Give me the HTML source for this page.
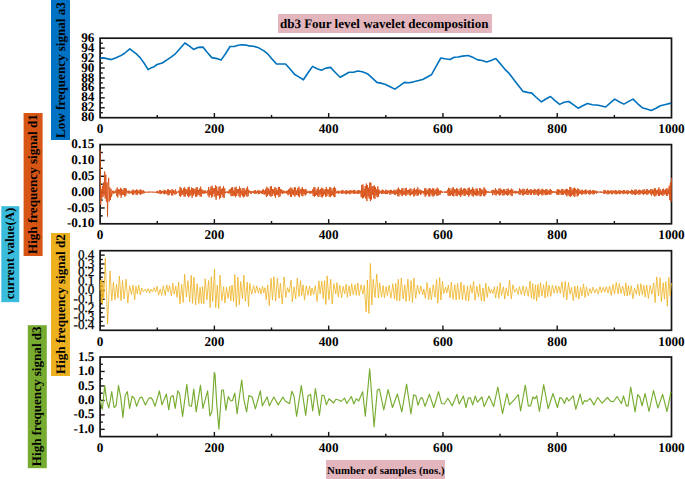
<!DOCTYPE html>
<html><head><meta charset="utf-8"><style>
html,body{margin:0;padding:0;background:#fff;}
body{width:685px;height:479px;overflow:hidden;position:relative;}
svg{position:absolute;left:0;top:0;}
svg text{text-rendering:geometricPrecision;font-family:"Liberation Serif",serif;font-weight:bold;font-size:13.2px;fill:#000;}
.box{text-rendering:geometricPrecision;position:absolute;font-family:"Liberation Serif",serif;font-weight:bold;color:#000;white-space:nowrap;}
.v{writing-mode:vertical-rl;transform:rotate(180deg);display:flex;align-items:center;justify-content:center;}
</style></head><body>
<svg width="685" height="479" viewBox="0 0 685 479">
<rect width="685" height="479" fill="#fff"/>
<rect x="100.1" y="38.2" width="571.4" height="79.5" fill="none" stroke="#161616" stroke-width="1.7"/>
<text x="94.4" y="41.80" text-anchor="end">96</text>
<line x1="100.1" y1="48.14" x2="104.69999999999999" y2="48.14" stroke="#161616" stroke-width="1.4"/>
<text x="94.4" y="51.74" text-anchor="end">94</text>
<line x1="100.1" y1="58.08" x2="104.69999999999999" y2="58.08" stroke="#161616" stroke-width="1.4"/>
<text x="94.4" y="61.68" text-anchor="end">92</text>
<line x1="100.1" y1="68.01" x2="104.69999999999999" y2="68.01" stroke="#161616" stroke-width="1.4"/>
<text x="94.4" y="71.61" text-anchor="end">90</text>
<line x1="100.1" y1="77.95" x2="104.69999999999999" y2="77.95" stroke="#161616" stroke-width="1.4"/>
<text x="94.4" y="81.55" text-anchor="end">88</text>
<line x1="100.1" y1="87.89" x2="104.69999999999999" y2="87.89" stroke="#161616" stroke-width="1.4"/>
<text x="94.4" y="91.49" text-anchor="end">86</text>
<line x1="100.1" y1="97.83" x2="104.69999999999999" y2="97.83" stroke="#161616" stroke-width="1.4"/>
<text x="94.4" y="101.42" text-anchor="end">84</text>
<line x1="100.1" y1="107.76" x2="104.69999999999999" y2="107.76" stroke="#161616" stroke-width="1.4"/>
<text x="94.4" y="111.36" text-anchor="end">82</text>
<text x="94.4" y="121.30" text-anchor="end">80</text>
<line x1="100.1" y1="43.17" x2="102.8" y2="43.17" stroke="#161616" stroke-width="1.4"/>
<line x1="100.1" y1="53.11" x2="102.8" y2="53.11" stroke="#161616" stroke-width="1.4"/>
<line x1="100.1" y1="63.04" x2="102.8" y2="63.04" stroke="#161616" stroke-width="1.4"/>
<line x1="100.1" y1="72.98" x2="102.8" y2="72.98" stroke="#161616" stroke-width="1.4"/>
<line x1="100.1" y1="82.92" x2="102.8" y2="82.92" stroke="#161616" stroke-width="1.4"/>
<line x1="100.1" y1="92.86" x2="102.8" y2="92.86" stroke="#161616" stroke-width="1.4"/>
<line x1="100.1" y1="102.79" x2="102.8" y2="102.79" stroke="#161616" stroke-width="1.4"/>
<line x1="100.1" y1="112.73" x2="102.8" y2="112.73" stroke="#161616" stroke-width="1.4"/>
<line x1="157.24" y1="117.7" x2="157.24" y2="114.9" stroke="#161616" stroke-width="1.4"/>
<line x1="214.38" y1="117.7" x2="214.38" y2="113.0" stroke="#161616" stroke-width="1.4"/>
<line x1="271.52" y1="117.7" x2="271.52" y2="114.9" stroke="#161616" stroke-width="1.4"/>
<line x1="328.66" y1="117.7" x2="328.66" y2="113.0" stroke="#161616" stroke-width="1.4"/>
<line x1="385.80" y1="117.7" x2="385.80" y2="114.9" stroke="#161616" stroke-width="1.4"/>
<line x1="442.94" y1="117.7" x2="442.94" y2="113.0" stroke="#161616" stroke-width="1.4"/>
<line x1="500.08" y1="117.7" x2="500.08" y2="114.9" stroke="#161616" stroke-width="1.4"/>
<line x1="557.22" y1="117.7" x2="557.22" y2="113.0" stroke="#161616" stroke-width="1.4"/>
<line x1="614.36" y1="117.7" x2="614.36" y2="114.9" stroke="#161616" stroke-width="1.4"/>
<text x="100.10" y="133.00" text-anchor="middle">0</text>
<text x="214.38" y="133.00" text-anchor="middle">200</text>
<text x="328.66" y="133.00" text-anchor="middle">400</text>
<text x="442.94" y="133.00" text-anchor="middle">600</text>
<text x="557.22" y="133.00" text-anchor="middle">800</text>
<text x="671.50" y="133.00" text-anchor="middle">1000</text>
<rect x="100.1" y="144.6" width="571.4" height="79.20000000000002" fill="none" stroke="#161616" stroke-width="1.7"/>
<text x="94.4" y="148.20" text-anchor="end">0.15</text>
<line x1="100.1" y1="160.44" x2="104.69999999999999" y2="160.44" stroke="#161616" stroke-width="1.4"/>
<text x="94.4" y="164.04" text-anchor="end">0.10</text>
<line x1="100.1" y1="176.28" x2="104.69999999999999" y2="176.28" stroke="#161616" stroke-width="1.4"/>
<text x="94.4" y="179.88" text-anchor="end">0.05</text>
<line x1="100.1" y1="192.12" x2="104.69999999999999" y2="192.12" stroke="#161616" stroke-width="1.4"/>
<text x="94.4" y="195.72" text-anchor="end">0.00</text>
<line x1="100.1" y1="207.96" x2="104.69999999999999" y2="207.96" stroke="#161616" stroke-width="1.4"/>
<text x="94.4" y="211.56" text-anchor="end">-0.05</text>
<text x="94.4" y="227.40" text-anchor="end">-0.10</text>
<line x1="100.1" y1="152.52" x2="102.8" y2="152.52" stroke="#161616" stroke-width="1.4"/>
<line x1="100.1" y1="168.36" x2="102.8" y2="168.36" stroke="#161616" stroke-width="1.4"/>
<line x1="100.1" y1="184.20" x2="102.8" y2="184.20" stroke="#161616" stroke-width="1.4"/>
<line x1="100.1" y1="200.04" x2="102.8" y2="200.04" stroke="#161616" stroke-width="1.4"/>
<line x1="100.1" y1="215.88" x2="102.8" y2="215.88" stroke="#161616" stroke-width="1.4"/>
<line x1="157.24" y1="223.8" x2="157.24" y2="221.0" stroke="#161616" stroke-width="1.4"/>
<line x1="214.38" y1="223.8" x2="214.38" y2="219.10000000000002" stroke="#161616" stroke-width="1.4"/>
<line x1="271.52" y1="223.8" x2="271.52" y2="221.0" stroke="#161616" stroke-width="1.4"/>
<line x1="328.66" y1="223.8" x2="328.66" y2="219.10000000000002" stroke="#161616" stroke-width="1.4"/>
<line x1="385.80" y1="223.8" x2="385.80" y2="221.0" stroke="#161616" stroke-width="1.4"/>
<line x1="442.94" y1="223.8" x2="442.94" y2="219.10000000000002" stroke="#161616" stroke-width="1.4"/>
<line x1="500.08" y1="223.8" x2="500.08" y2="221.0" stroke="#161616" stroke-width="1.4"/>
<line x1="557.22" y1="223.8" x2="557.22" y2="219.10000000000002" stroke="#161616" stroke-width="1.4"/>
<line x1="614.36" y1="223.8" x2="614.36" y2="221.0" stroke="#161616" stroke-width="1.4"/>
<text x="100.10" y="239.10" text-anchor="middle">0</text>
<text x="214.38" y="239.10" text-anchor="middle">200</text>
<text x="328.66" y="239.10" text-anchor="middle">400</text>
<text x="442.94" y="239.10" text-anchor="middle">600</text>
<text x="557.22" y="239.10" text-anchor="middle">800</text>
<text x="671.50" y="239.10" text-anchor="middle">1000</text>
<rect x="100.1" y="250.7" width="571.4" height="79.60000000000002" fill="none" stroke="#161616" stroke-width="1.7"/>
<line x1="100.1" y1="255.12" x2="104.69999999999999" y2="255.12" stroke="#161616" stroke-width="1.4"/>
<text x="94.4" y="258.72" text-anchor="end" style="font-weight:normal;font-size:13.2px;stroke:#000;stroke-width:0.25px">0.4</text>
<line x1="100.1" y1="263.97" x2="104.69999999999999" y2="263.97" stroke="#161616" stroke-width="1.4"/>
<text x="94.4" y="267.57" text-anchor="end" style="font-weight:normal;font-size:13.2px;stroke:#000;stroke-width:0.25px">0.3</text>
<line x1="100.1" y1="272.81" x2="104.69999999999999" y2="272.81" stroke="#161616" stroke-width="1.4"/>
<text x="94.4" y="276.41" text-anchor="end" style="font-weight:normal;font-size:13.2px;stroke:#000;stroke-width:0.25px">0.2</text>
<line x1="100.1" y1="281.66" x2="104.69999999999999" y2="281.66" stroke="#161616" stroke-width="1.4"/>
<text x="94.4" y="285.26" text-anchor="end" style="font-weight:normal;font-size:13.2px;stroke:#000;stroke-width:0.25px">0.1</text>
<line x1="100.1" y1="290.50" x2="104.69999999999999" y2="290.50" stroke="#161616" stroke-width="1.4"/>
<text x="94.4" y="294.10" text-anchor="end" style="font-weight:normal;font-size:13.2px;stroke:#000;stroke-width:0.25px">0.0</text>
<line x1="100.1" y1="299.34" x2="104.69999999999999" y2="299.34" stroke="#161616" stroke-width="1.4"/>
<text x="94.4" y="302.94" text-anchor="end" style="font-weight:normal;font-size:13.2px;stroke:#000;stroke-width:0.25px">-0.1</text>
<line x1="100.1" y1="308.19" x2="104.69999999999999" y2="308.19" stroke="#161616" stroke-width="1.4"/>
<text x="94.4" y="311.79" text-anchor="end" style="font-weight:normal;font-size:13.2px;stroke:#000;stroke-width:0.25px">-0.2</text>
<line x1="100.1" y1="317.03" x2="104.69999999999999" y2="317.03" stroke="#161616" stroke-width="1.4"/>
<text x="94.4" y="320.63" text-anchor="end" style="font-weight:normal;font-size:13.2px;stroke:#000;stroke-width:0.25px">-0.3</text>
<line x1="100.1" y1="325.88" x2="104.69999999999999" y2="325.88" stroke="#161616" stroke-width="1.4"/>
<text x="94.4" y="329.48" text-anchor="end" style="font-weight:normal;font-size:13.2px;stroke:#000;stroke-width:0.25px">-0.4</text>
<line x1="100.1" y1="259.54" x2="102.8" y2="259.54" stroke="#161616" stroke-width="1.4"/>
<line x1="100.1" y1="268.39" x2="102.8" y2="268.39" stroke="#161616" stroke-width="1.4"/>
<line x1="100.1" y1="277.23" x2="102.8" y2="277.23" stroke="#161616" stroke-width="1.4"/>
<line x1="100.1" y1="286.08" x2="102.8" y2="286.08" stroke="#161616" stroke-width="1.4"/>
<line x1="100.1" y1="294.92" x2="102.8" y2="294.92" stroke="#161616" stroke-width="1.4"/>
<line x1="100.1" y1="303.77" x2="102.8" y2="303.77" stroke="#161616" stroke-width="1.4"/>
<line x1="100.1" y1="312.61" x2="102.8" y2="312.61" stroke="#161616" stroke-width="1.4"/>
<line x1="100.1" y1="321.46" x2="102.8" y2="321.46" stroke="#161616" stroke-width="1.4"/>
<line x1="157.24" y1="330.3" x2="157.24" y2="327.5" stroke="#161616" stroke-width="1.4"/>
<line x1="214.38" y1="330.3" x2="214.38" y2="325.6" stroke="#161616" stroke-width="1.4"/>
<line x1="271.52" y1="330.3" x2="271.52" y2="327.5" stroke="#161616" stroke-width="1.4"/>
<line x1="328.66" y1="330.3" x2="328.66" y2="325.6" stroke="#161616" stroke-width="1.4"/>
<line x1="385.80" y1="330.3" x2="385.80" y2="327.5" stroke="#161616" stroke-width="1.4"/>
<line x1="442.94" y1="330.3" x2="442.94" y2="325.6" stroke="#161616" stroke-width="1.4"/>
<line x1="500.08" y1="330.3" x2="500.08" y2="327.5" stroke="#161616" stroke-width="1.4"/>
<line x1="557.22" y1="330.3" x2="557.22" y2="325.6" stroke="#161616" stroke-width="1.4"/>
<line x1="614.36" y1="330.3" x2="614.36" y2="327.5" stroke="#161616" stroke-width="1.4"/>
<text x="100.10" y="345.60" text-anchor="middle">0</text>
<text x="214.38" y="345.60" text-anchor="middle">200</text>
<text x="328.66" y="345.60" text-anchor="middle">400</text>
<text x="442.94" y="345.60" text-anchor="middle">600</text>
<text x="557.22" y="345.60" text-anchor="middle">800</text>
<text x="671.50" y="345.60" text-anchor="middle">1000</text>
<rect x="100.1" y="357.0" width="571.4" height="79.60000000000002" fill="none" stroke="#161616" stroke-width="1.7"/>
<text x="94.4" y="360.60" text-anchor="end">1.5</text>
<line x1="100.1" y1="371.47" x2="104.69999999999999" y2="371.47" stroke="#161616" stroke-width="1.4"/>
<text x="94.4" y="375.07" text-anchor="end">1.0</text>
<line x1="100.1" y1="385.95" x2="104.69999999999999" y2="385.95" stroke="#161616" stroke-width="1.4"/>
<text x="94.4" y="389.55" text-anchor="end">0.5</text>
<line x1="100.1" y1="400.42" x2="104.69999999999999" y2="400.42" stroke="#161616" stroke-width="1.4"/>
<text x="94.4" y="404.02" text-anchor="end">0.0</text>
<line x1="100.1" y1="414.89" x2="104.69999999999999" y2="414.89" stroke="#161616" stroke-width="1.4"/>
<text x="94.4" y="418.49" text-anchor="end">-0.5</text>
<line x1="100.1" y1="429.36" x2="104.69999999999999" y2="429.36" stroke="#161616" stroke-width="1.4"/>
<text x="94.4" y="432.96" text-anchor="end">-1.0</text>
<line x1="100.1" y1="364.24" x2="102.8" y2="364.24" stroke="#161616" stroke-width="1.4"/>
<line x1="100.1" y1="378.71" x2="102.8" y2="378.71" stroke="#161616" stroke-width="1.4"/>
<line x1="100.1" y1="393.18" x2="102.8" y2="393.18" stroke="#161616" stroke-width="1.4"/>
<line x1="100.1" y1="407.65" x2="102.8" y2="407.65" stroke="#161616" stroke-width="1.4"/>
<line x1="100.1" y1="422.13" x2="102.8" y2="422.13" stroke="#161616" stroke-width="1.4"/>
<line x1="157.24" y1="436.6" x2="157.24" y2="433.8" stroke="#161616" stroke-width="1.4"/>
<line x1="214.38" y1="436.6" x2="214.38" y2="431.90000000000003" stroke="#161616" stroke-width="1.4"/>
<line x1="271.52" y1="436.6" x2="271.52" y2="433.8" stroke="#161616" stroke-width="1.4"/>
<line x1="328.66" y1="436.6" x2="328.66" y2="431.90000000000003" stroke="#161616" stroke-width="1.4"/>
<line x1="385.80" y1="436.6" x2="385.80" y2="433.8" stroke="#161616" stroke-width="1.4"/>
<line x1="442.94" y1="436.6" x2="442.94" y2="431.90000000000003" stroke="#161616" stroke-width="1.4"/>
<line x1="500.08" y1="436.6" x2="500.08" y2="433.8" stroke="#161616" stroke-width="1.4"/>
<line x1="557.22" y1="436.6" x2="557.22" y2="431.90000000000003" stroke="#161616" stroke-width="1.4"/>
<line x1="614.36" y1="436.6" x2="614.36" y2="433.8" stroke="#161616" stroke-width="1.4"/>
<text x="100.10" y="451.90" text-anchor="middle">0</text>
<text x="214.38" y="451.90" text-anchor="middle">200</text>
<text x="328.66" y="451.90" text-anchor="middle">400</text>
<text x="442.94" y="451.90" text-anchor="middle">600</text>
<text x="557.22" y="451.90" text-anchor="middle">800</text>
<text x="671.50" y="451.90" text-anchor="middle">1000</text>
<polyline points="100.2,57.9 103.1,57.9 106.8,58.6 111.4,59.6 115.5,57.9 119.9,56.1 124.3,53.5 129.8,48.8 133.0,51.3 136.7,54.2 140.3,57.9 144.0,63.0 148.1,69.6 152.0,67.4 154.2,66.7 157.1,64.5 162.2,63.0 166.6,60.1 171.0,57.2 175.4,53.8 179.8,48.8 184.9,43.0 189.2,45.9 193.6,49.4 197.9,47.4 203.0,47.1 206.7,51.8 211.8,57.6 216.9,58.6 221.0,60.1 225.7,53.5 230.0,46.5 234.4,46.5 237.3,45.5 241.7,44.8 246.1,45.1 249.0,45.9 253.4,46.2 257.8,47.4 263.6,50.6 268.0,54.2 272.4,59.4 276.5,64.0 281.1,64.0 285.5,64.0 289.9,68.8 294.4,74.2 298.8,76.9 303.4,79.8 308.2,72.5 312.6,66.4 317.0,68.8 321.4,70.3 325.8,68.1 330.6,67.4 335.3,72.5 340.1,77.3 344.7,74.7 349.1,72.2 353.5,72.2 357.9,71.0 362.3,71.8 367.4,73.7 371.8,77.6 376.9,82.4 382.0,83.4 385.0,84.3 390.1,86.8 394.9,89.1 399.6,85.8 404.3,82.4 408.4,82.8 412.7,82.1 417.8,80.7 422.7,79.5 427.3,77.0 431.4,74.8 436.1,66.4 440.8,58.0 444.9,58.8 450.0,59.5 454.3,57.3 458.0,57.0 462.4,56.1 468.2,55.5 473.3,57.6 477.7,59.9 482.1,60.5 486.6,62.0 491.0,60.5 495.8,58.5 500.5,63.9 504.9,69.3 509.2,73.4 515.8,82.2 523.1,91.4 527.5,92.4 531.9,93.1 536.3,97.5 541.4,101.9 545.8,99.0 550.5,96.5 555.3,100.9 559.7,104.4 564.1,102.3 568.9,101.5 573.6,104.8 578.2,108.2 582.3,106.0 587.4,103.5 592.5,104.7 598.4,105.3 605.7,107.0 610.0,103.1 614.7,99.1 619.5,102.0 623.9,104.1 628.3,101.6 633.0,99.1 637.8,103.8 642.2,107.7 646.5,108.9 651.2,110.4 656.0,108.2 660.4,105.7 665.5,104.5 671.0,103.1" fill="none" stroke="#0072BD" stroke-width="1.6" stroke-linejoin="round"/>
<polyline points="100.1,149.4 100.7,204.8 101.2,189.0 101.8,198.5 102.4,185.8 103.0,196.9 103.5,182.6 104.1,195.3 104.7,171.5 105.2,198.5 105.8,174.7 106.4,201.6 107.0,182.6 107.5,216.5 108.1,185.8 108.7,177.9 109.2,201.6 109.8,187.4 110.4,200.0 111.0,189.0 111.5,196.9 112.1,193.0 112.7,190.8 113.2,193.8 113.8,190.8 114.4,193.3 115.0,191.4 115.5,192.7 116.1,189.7 116.7,196.0 117.2,187.5 117.8,197.4 118.4,189.1 119.0,193.8 119.5,189.6 120.1,195.3 120.7,187.8 121.2,197.7 121.8,188.9 122.4,194.8 123.0,190.2 123.5,195.0 124.1,188.1 124.7,196.6 125.2,188.0 125.8,195.7 126.4,188.8 127.0,192.9 127.5,191.0 128.1,193.4 128.7,190.7 129.2,193.6 129.8,190.8 130.4,193.1 131.0,191.5 131.5,193.4 132.1,190.3 132.7,194.9 133.2,189.5 133.8,194.6 134.4,190.8 135.0,192.9 135.5,190.2 136.1,194.6 136.7,189.3 137.2,195.1 137.8,190.1 138.4,193.2 139.0,190.8 139.5,194.1 140.1,189.4 140.7,194.8 141.2,189.8 141.8,194.0 142.4,190.8 143.0,193.4 143.5,190.2 144.1,193.3 144.7,191.5 145.2,192.7 145.8,191.7 146.4,192.5 147.0,191.9 147.5,192.5 148.1,191.6 148.7,192.6 149.2,191.5 149.8,192.6 150.4,191.8 151.0,192.3 151.5,191.7 152.1,192.7 152.7,191.6 153.2,192.6 153.8,191.8 154.4,192.4 155.0,191.8 155.5,192.6 156.1,191.6 156.7,193.0 157.2,190.8 157.8,193.3 158.4,191.5 159.0,193.3 159.5,190.2 160.1,194.1 160.7,190.2 161.2,194.0 161.8,191.0 162.4,192.6 163.0,190.8 163.5,193.8 164.1,189.9 164.7,194.3 165.2,190.2 165.8,193.5 166.4,191.0 167.0,194.2 167.5,189.4 168.1,195.4 168.7,189.3 169.2,194.9 169.8,190.3 170.4,192.8 171.0,190.3 171.5,195.4 172.1,189.2 172.7,195.5 173.2,189.9 173.8,193.4 174.4,190.9 175.0,194.6 175.5,189.2 176.1,194.1 176.7,191.5 177.2,192.7 177.8,191.7 178.4,192.4 179.0,190.4 179.5,196.0 180.1,186.9 180.7,196.8 181.2,188.1 181.8,194.9 182.4,190.4 183.0,194.7 183.5,188.1 184.1,196.6 184.7,187.3 185.2,196.5 185.8,189.0 186.4,194.0 187.0,189.5 187.5,196.0 188.1,187.4 188.7,197.2 189.2,186.8 189.8,196.0 190.4,190.1 191.0,194.8 191.5,187.6 192.1,197.7 192.7,188.0 193.2,195.7 193.8,188.7 194.4,193.6 195.0,189.4 195.5,196.5 196.1,187.6 196.7,196.8 197.2,187.2 197.8,195.1 198.4,190.1 199.0,194.7 199.5,188.6 200.1,196.5 200.7,186.6 201.2,196.7 201.8,189.2 202.4,193.5 203.0,190.4 203.5,193.5 204.1,190.4 204.7,193.7 205.2,190.4 205.8,193.2 206.4,191.6 207.0,193.2 207.5,190.4 208.1,195.6 208.7,187.0 209.2,197.3 209.8,189.8 210.4,194.9 211.0,186.7 211.5,197.5 212.1,185.7 212.7,196.6 213.2,188.2 213.8,193.7 214.4,188.3 215.0,196.8 215.5,185.4 216.1,199.7 216.7,186.4 217.2,195.7 217.8,190.6 218.4,195.3 219.0,186.8 219.5,199.1 220.1,186.3 220.7,197.8 221.2,189.0 221.8,194.5 222.4,188.2 223.0,197.3 223.5,186.0 224.1,197.9 224.7,188.3 225.2,193.4 225.8,191.9 226.4,192.7 227.0,191.3 227.5,192.9 228.1,191.4 228.7,193.5 229.2,189.7 229.8,193.4 230.4,188.9 231.0,195.9 231.5,187.6 232.1,196.2 232.7,187.2 233.2,196.0 233.8,190.5 234.4,195.6 235.0,187.5 235.5,197.2 236.1,186.8 236.7,195.8 237.2,189.0 237.8,193.4 238.4,189.2 239.0,196.3 239.5,186.4 240.1,197.5 240.7,188.1 241.2,194.5 241.8,190.6 242.4,196.2 242.9,188.0 243.5,197.4 244.1,188.3 244.7,196.5 245.2,190.4 245.8,194.6 246.4,188.4 246.9,196.7 247.5,186.5 248.1,196.2 248.7,189.7 249.2,192.7 249.8,191.0 250.4,193.5 250.9,190.9 251.5,193.6 252.1,191.1 252.7,192.7 253.2,191.2 253.8,193.2 254.4,190.5 254.9,194.0 255.5,190.2 256.1,193.7 256.7,191.4 257.2,193.1 257.8,190.4 258.4,194.2 258.9,190.3 259.5,193.7 260.1,190.7 260.7,193.0 261.2,191.0 261.8,193.9 262.4,189.8 262.9,193.9 263.5,189.4 264.1,194.7 264.7,190.6 265.2,194.3 265.8,188.8 266.4,197.1 266.9,186.8 267.5,195.7 268.1,188.1 268.7,194.3 269.2,189.7 269.8,195.6 270.4,186.5 270.9,196.7 271.5,186.2 272.1,196.1 272.7,189.1 273.2,193.8 273.8,189.3 274.4,196.0 274.9,187.0 275.5,198.0 276.1,188.1 276.7,194.8 277.2,190.3 277.8,195.1 278.4,186.9 278.9,197.2 279.5,187.1 280.1,196.3 280.7,189.0 281.2,193.2 281.8,189.8 282.4,194.0 282.9,190.7 283.5,193.3 284.1,190.6 284.7,193.2 285.2,191.5 285.8,193.1 286.4,190.8 286.9,193.8 287.5,190.7 288.1,195.3 288.7,189.4 289.2,194.1 289.8,188.6 290.4,196.6 290.9,187.4 291.5,197.0 292.1,188.4 292.7,194.3 293.2,190.1 293.8,195.4 294.4,187.1 294.9,196.6 295.5,187.6 296.1,195.1 296.7,190.6 297.2,194.9 297.8,188.1 298.4,196.3 298.9,186.7 299.5,197.2 300.1,189.5 300.7,193.4 301.2,188.7 301.8,195.8 302.4,187.2 302.9,196.3 303.5,189.1 304.1,194.0 304.7,189.6 305.2,195.5 305.8,188.9 306.4,194.3 306.9,190.6 307.5,193.0 308.1,191.7 308.7,192.8 309.2,190.8 309.8,193.6 310.4,190.9 310.9,193.6 311.5,191.1 312.1,193.2 312.7,189.4 313.2,196.0 313.8,187.4 314.4,196.8 314.9,187.2 315.5,195.8 316.1,190.7 316.7,195.0 317.2,188.6 317.8,196.5 318.4,186.9 318.9,196.8 319.5,189.9 320.1,194.3 320.7,188.9 321.2,197.1 321.8,187.7 322.4,197.4 322.9,188.3 323.5,195.5 324.1,190.2 324.7,194.3 325.2,189.0 325.8,196.9 326.4,186.9 326.9,196.2 327.5,189.4 328.1,193.8 328.7,189.5 329.2,196.6 329.8,187.1 330.4,197.1 330.9,187.6 331.5,195.7 332.1,190.5 332.7,195.1 333.2,188.0 333.8,196.7 334.4,186.7 334.9,197.2 335.5,188.4 336.1,193.5 336.7,191.5 337.2,193.1 337.8,190.8 338.4,193.5 338.9,190.8 339.5,193.3 340.1,191.4 340.7,192.7 341.2,190.6 341.8,194.0 342.4,189.9 342.9,193.8 343.5,190.7 344.1,192.9 344.7,191.3 345.2,194.0 345.8,190.5 346.4,194.3 346.9,190.0 347.5,193.5 348.1,191.1 348.7,193.2 349.2,190.5 349.8,194.3 350.4,190.1 350.9,193.7 351.5,190.7 352.1,192.7 352.7,190.8 353.2,193.6 353.8,189.9 354.4,194.0 354.9,190.0 355.5,193.7 356.1,191.6 356.7,193.3 357.2,190.5 357.8,194.0 358.4,190.1 358.9,193.9 359.5,190.5 360.1,193.2 360.7,190.7 361.2,197.0 361.8,184.9 362.4,198.3 362.9,184.5 363.5,198.1 364.1,188.9 364.7,196.5 365.2,186.0 365.8,198.7 366.4,183.6 366.9,201.1 367.5,185.2 368.1,196.4 368.7,187.7 369.2,198.6 369.8,182.4 370.4,201.1 370.9,182.8 371.5,199.4 372.1,186.4 372.7,194.7 373.2,186.1 373.8,198.1 374.4,185.3 374.9,199.0 375.5,187.0 376.1,195.4 376.7,189.4 377.2,197.2 377.8,186.4 378.4,196.8 378.9,189.6 379.5,194.0 380.1,190.9 380.7,193.0 381.2,190.6 381.8,194.0 382.4,189.7 382.9,194.0 383.5,190.2 384.1,193.5 384.7,191.2 385.2,194.0 385.8,189.7 386.4,194.1 386.9,190.1 387.5,194.1 388.1,190.7 388.7,192.8 389.2,190.5 389.8,194.6 390.4,189.9 390.9,194.3 391.5,189.9 392.1,193.6 392.7,191.0 393.2,193.7 393.8,190.1 394.4,194.7 394.9,189.8 395.5,195.0 396.1,190.6 396.7,193.8 397.2,189.2 397.8,196.1 398.4,187.6 398.9,196.4 399.5,189.4 400.1,193.6 400.7,190.1 401.2,195.4 401.8,188.5 402.4,196.1 402.9,188.1 403.5,194.4 404.1,190.9 404.7,194.6 405.2,188.3 405.8,195.9 406.4,187.9 406.9,195.1 407.5,190.0 408.1,193.5 408.7,189.8 409.2,195.1 409.8,188.9 410.4,195.7 410.9,188.5 411.5,194.5 412.1,191.2 412.7,194.2 413.2,189.1 413.8,196.5 414.4,187.9 414.9,195.6 415.5,189.9 416.1,194.1 416.7,189.2 417.2,196.0 417.8,187.4 418.4,195.3 418.9,189.9 419.5,193.4 420.1,189.4 420.7,195.0 421.2,190.4 421.8,193.6 422.4,190.8 422.9,192.8 423.5,191.1 424.1,194.6 424.7,188.5 425.2,196.8 425.8,188.1 426.4,195.3 426.9,190.3 427.5,194.1 428.1,189.3 428.7,196.3 429.2,188.0 429.8,196.6 430.4,188.6 430.9,193.9 431.5,189.8 432.1,195.7 432.7,188.3 433.2,196.6 433.8,188.5 434.4,195.5 434.9,190.4 435.5,194.1 436.1,189.1 436.7,195.6 437.2,187.7 437.8,195.9 438.4,188.8 438.9,195.0 439.5,190.8 440.1,194.7 440.7,190.4 441.2,192.8 441.8,191.2 442.4,192.8 442.9,191.7 443.5,192.3 444.1,191.6 444.7,192.9 445.2,191.3 445.8,192.8 446.4,191.6 446.9,192.9 447.5,189.8 448.1,195.5 448.7,187.8 449.2,196.0 449.8,188.3 450.4,195.8 450.9,190.5 451.5,194.4 452.1,188.3 452.7,196.1 453.2,187.1 453.8,196.3 454.4,189.1 454.9,193.2 455.5,189.6 456.1,196.0 456.7,188.0 457.2,196.2 457.8,188.9 458.4,194.4 458.9,190.9 459.5,195.3 460.1,188.7 460.7,196.7 461.2,187.6 461.8,195.3 462.4,190.2 462.9,194.1 463.5,188.7 464.1,196.0 464.7,188.1 465.2,195.8 465.8,189.1 466.4,194.2 466.9,190.7 467.5,194.9 468.1,188.1 468.7,196.5 469.2,187.6 469.8,195.2 470.4,189.9 470.9,193.7 471.5,189.5 472.1,195.8 472.7,187.3 473.2,196.6 473.8,188.9 474.4,194.6 474.9,190.8 475.5,195.4 476.1,188.5 476.7,195.8 477.2,188.7 477.8,195.6 478.4,191.0 478.9,194.5 479.5,188.2 480.1,196.4 480.7,188.4 481.2,195.9 481.8,189.8 482.4,193.5 482.9,189.6 483.5,196.0 484.1,187.3 484.7,196.3 485.2,188.8 485.8,194.6 486.4,190.6 486.9,192.8 487.5,191.4 488.1,193.0 488.7,191.3 489.2,192.8 489.8,191.8 490.4,192.5 490.9,191.5 491.5,193.0 492.1,190.0 492.7,195.3 493.2,189.7 493.8,193.4 494.4,190.5 494.9,194.8 495.5,188.3 496.1,195.5 496.7,189.8 497.2,193.8 497.8,191.0 498.4,194.3 498.9,188.6 499.5,195.5 500.1,188.3 500.7,195.0 501.2,189.5 501.8,193.1 502.4,190.1 502.9,195.6 503.5,189.1 504.1,195.3 504.7,189.2 505.2,194.2 505.8,191.1 506.4,194.7 506.9,189.1 507.5,195.5 508.1,188.4 508.7,195.1 509.2,190.2 509.8,193.4 510.4,189.8 510.9,195.4 511.5,188.7 512.1,196.2 512.7,189.6 513.2,193.2 513.8,191.5 514.4,193.1 514.9,190.9 515.5,193.5 516.1,190.9 516.7,193.3 517.2,191.5 517.8,193.0 518.4,191.1 518.9,194.4 519.5,188.4 520.1,194.9 520.7,189.5 521.2,193.1 521.8,190.2 522.4,195.2 522.9,188.8 523.5,195.3 524.1,188.9 524.7,194.3 525.2,191.1 525.8,194.0 526.4,189.2 526.9,194.9 527.5,188.5 528.1,194.9 528.6,190.0 529.2,193.3 529.8,189.8 530.4,194.9 530.9,189.0 531.5,194.9 532.1,189.9 532.6,193.0 533.2,190.2 533.8,194.8 534.4,188.9 534.9,195.0 535.5,189.6 536.1,193.4 536.6,190.2 537.2,195.1 537.8,189.0 538.4,196.0 538.9,188.7 539.5,194.4 540.1,190.6 540.6,193.7 541.2,189.6 541.8,195.2 542.4,188.7 542.9,195.3 543.5,189.7 544.1,193.3 544.6,190.4 545.2,195.1 545.8,189.2 546.4,195.1 546.9,189.2 547.5,194.8 548.1,190.8 548.6,193.9 549.2,189.9 549.8,194.8 550.4,188.9 550.9,194.5 551.5,190.1 552.1,193.2 552.6,191.3 553.2,192.7 553.8,191.2 554.4,192.8 554.9,191.4 555.5,192.6 556.1,191.5 556.6,194.4 557.2,189.3 557.8,195.0 558.4,189.4 558.9,194.9 559.5,189.9 560.1,193.2 560.6,190.7 561.2,194.8 561.8,188.9 562.4,195.0 562.9,189.1 563.5,194.5 564.1,190.6 564.6,193.3 565.2,189.6 565.8,195.0 566.4,188.8 566.9,196.3 567.5,189.2 568.1,194.6 568.6,190.3 569.2,196.0 569.8,187.2 570.4,197.0 570.9,187.2 571.5,196.1 572.1,190.0 572.6,194.7 573.2,188.3 573.8,196.3 574.4,187.7 574.9,196.7 575.5,188.7 576.1,193.4 576.6,189.9 577.2,196.4 577.8,188.4 578.4,195.7 578.9,189.0 579.5,193.7 580.1,191.1 580.6,193.8 581.2,189.9 581.8,194.8 582.4,189.8 582.9,194.2 583.5,190.8 584.1,193.4 584.6,190.3 585.2,194.3 585.8,189.4 586.4,194.2 586.9,190.6 587.5,192.7 588.1,190.8 588.6,194.1 589.2,190.2 589.8,194.8 590.4,189.8 590.9,193.7 591.5,191.3 592.1,193.4 592.6,190.3 593.2,194.6 593.8,190.0 594.4,194.1 594.9,190.8 595.5,193.0 596.1,190.7 596.6,193.6 597.2,191.3 597.8,192.8 598.4,191.7 598.9,192.4 599.5,191.6 600.1,192.8 600.6,191.4 601.2,192.9 601.8,191.7 602.4,192.5 602.9,191.7 603.5,193.5 604.1,189.9 604.6,193.9 605.2,190.1 605.8,193.4 606.4,191.5 606.9,193.8 607.5,190.3 608.1,194.4 608.6,190.5 609.2,193.7 609.8,191.2 610.4,193.2 610.9,190.2 611.5,194.2 612.1,190.5 612.6,194.2 613.2,190.7 613.8,192.8 614.4,190.7 614.9,194.0 615.5,190.1 616.1,194.5 616.6,190.6 617.2,193.8 617.8,191.4 618.4,193.3 618.9,190.2 619.5,194.2 620.1,190.3 620.6,193.9 621.2,190.9 621.8,192.7 622.4,190.8 622.9,194.2 623.5,190.0 624.1,193.9 624.6,190.1 625.2,193.5 625.8,191.6 626.4,193.4 626.9,190.3 627.5,194.4 628.1,190.4 628.6,193.6 629.2,191.2 629.8,193.0 630.4,190.9 630.9,194.0 631.5,189.7 632.1,194.7 632.6,190.0 633.2,193.9 633.8,191.0 634.4,194.7 634.9,189.6 635.5,195.1 636.1,189.5 636.6,194.2 637.2,191.1 637.8,193.5 638.4,190.0 638.9,194.8 639.5,189.7 640.1,194.4 640.6,190.3 641.2,193.3 641.8,190.7 642.4,194.0 642.9,189.7 643.5,195.1 644.1,189.2 644.6,194.0 645.2,190.9 645.8,193.7 646.4,189.3 646.9,195.0 647.5,189.5 648.1,194.4 648.6,190.4 649.2,193.0 649.8,190.3 650.4,194.2 650.9,189.0 651.5,195.7 652.1,189.3 652.6,193.8 653.2,189.9 653.8,195.5 654.4,188.3 654.9,196.5 655.5,188.5 656.1,195.6 656.6,190.4 657.2,193.8 657.8,189.6 658.4,195.9 658.9,187.5 659.5,195.9 660.1,189.2 660.6,194.5 661.2,191.0 661.8,195.1 662.4,189.1 662.9,195.9 663.5,188.7 664.1,194.8 664.6,190.3 665.2,194.1 665.8,189.0 666.4,196.0 666.9,188.1 667.5,195.6 668.1,189.2 668.6,194.1 669.2,185.8 669.8,200.0 670.4,182.6 670.9,201.6 671.5,177.9" fill="none" stroke="#D95319" stroke-width="0.95" stroke-linejoin="round"/>
<polyline points="100.1,290.5 100.7,280.0 101.3,303.0 101.9,279.0 102.5,304.0 103.1,283.0 103.7,298.0 104.3,287.0 105.3,258.2 107.6,324.3 110.0,270.8 111.8,300.6 113.4,282.2 115.0,299.8 116.5,284.0 118.0,298.0 119.4,276.0 121.0,300.6 122.5,280.5 124.0,298.9 126.1,279.2 127.8,303.0 129.6,285.6 131.5,294.5 133.1,285.1 134.7,299.8 135.9,286.3 137.3,293.8 138.7,285.1 140.3,294.9 141.6,288.1 143.4,291.7 145.3,289.1 146.7,292.3 148.2,288.6 149.7,293.2 151.0,289.0 152.5,291.8 154.0,287.6 155.7,292.1 157.2,286.2 158.6,295.2 160.3,289.0 161.7,295.4 163.3,285.8 165.2,295.4 166.7,284.8 168.2,292.0 169.5,285.5 171.4,295.8 172.8,283.3 174.2,294.1 175.8,286.0 177.0,297.3 178.7,282.1 179.9,304.1 181.7,284.3 183.2,302.5 184.6,274.3 186.4,296.9 187.9,280.6 189.7,301.8 191.2,275.3 192.6,303.4 193.9,277.3 195.6,305.0 197.1,283.7 198.8,303.6 200.1,287.2 201.4,303.5 202.6,286.5 203.8,303.7 205.2,278.7 206.9,300.0 208.6,280.5 210.2,307.6 211.3,276.7 212.7,301.5 214.5,269.0 215.7,307.6 217.3,285.0 218.7,308.5 220.0,275.1 221.8,300.7 223.6,286.8 224.9,303.1 226.5,287.3 228.1,298.4 229.7,286.2 230.8,300.8 232.0,285.0 233.6,301.5 234.8,274.6 236.3,306.6 237.9,277.0 239.3,304.7 240.7,281.6 242.5,298.7 243.9,275.0 245.3,301.4 247.2,282.0 248.5,306.5 249.8,283.4 251.7,294.2 253.6,285.6 255.3,293.1 256.7,285.8 258.4,293.1 259.7,287.8 261.0,294.0 262.5,286.2 263.7,292.9 264.9,287.7 266.2,299.7 267.7,284.9 269.3,305.7 271.0,278.3 272.5,300.1 273.9,276.8 275.6,301.0 277.4,278.3 279.1,298.4 280.4,283.2 282.2,304.1 284.1,276.8 285.8,297.5 287.5,287.7 289.2,292.7 291.1,279.9 292.3,301.9 294.1,286.8 295.7,298.9 297.3,278.1 299.0,296.6 300.5,280.8 301.7,295.5 303.1,284.8 304.5,300.2 306.3,285.7 308.0,295.2 309.6,286.1 310.8,295.6 312.0,288.1 313.6,294.6 315.3,285.6 317.1,301.6 318.9,280.8 320.1,293.9 321.8,281.2 323.2,298.7 324.5,280.6 325.9,304.5 327.1,275.8 328.9,299.6 330.7,279.2 332.2,304.1 333.9,283.6 335.8,294.0 336.9,282.6 338.3,296.8 339.8,285.2 341.6,297.8 343.1,286.4 344.7,294.0 346.1,284.1 347.3,297.2 349.0,285.8 350.3,296.0 351.7,283.6 353.3,294.7 355.1,284.6 356.3,295.3 357.8,283.0 359.2,295.5 361.1,284.8 362.9,294.2 364.3,285.1 366.1,312.0 367.4,280.0 368.9,313.5 370.4,263.4 371.8,305.0 373.2,279.3 375.0,297.5 376.7,274.0 378.4,298.1 379.7,282.9 381.5,297.0 383.2,285.6 384.4,298.0 386.2,286.5 387.4,295.6 389.1,285.3 390.9,298.2 392.8,283.8 394.5,299.1 395.7,283.3 396.9,300.8 398.3,279.3 399.7,301.0 401.3,278.0 403.1,299.0 404.8,284.8 406.0,301.5 407.9,279.2 409.4,300.8 411.1,280.7 412.5,302.6 413.9,278.0 415.7,298.3 417.5,285.0 419.4,294.3 420.8,285.9 422.7,294.8 423.8,289.0 425.3,298.3 427.1,282.6 428.7,299.7 429.9,287.6 431.4,299.7 433.2,284.8 435.0,297.3 436.6,279.6 437.8,303.3 439.7,277.5 440.9,300.0 442.5,281.3 443.8,293.5 445.6,287.1 446.8,292.9 448.4,285.0 450.1,297.8 451.3,282.2 453.1,299.3 454.8,284.7 456.1,300.0 457.6,283.4 459.3,299.3 461.0,282.0 462.5,300.0 463.9,284.9 465.8,300.5 467.5,285.9 468.6,301.0 470.5,284.8 472.1,293.2 473.6,281.4 475.0,300.3 476.8,286.2 478.5,297.1 479.8,284.1 481.3,300.9 483.0,288.0 484.2,301.5 485.8,283.0 487.2,297.4 488.7,286.6 490.1,293.4 491.4,289.2 493.0,293.5 494.4,286.8 495.6,298.1 497.4,286.4 498.9,298.4 500.1,282.7 501.5,295.4 503.4,286.8 504.8,299.0 506.2,287.8 508.0,295.8 509.5,280.1 511.4,299.0 512.8,284.8 514.6,292.2 516.5,288.5 518.1,294.4 519.4,286.6 521.3,294.7 523.1,285.9 524.5,295.6 526.4,286.8 528.2,296.4 530.1,281.1 531.4,298.2 532.7,283.6 533.9,299.4 535.5,284.8 536.6,301.1 537.9,284.3 539.0,297.2 540.5,282.6 541.9,295.9 543.6,284.8 545.0,298.0 546.4,281.3 547.6,296.6 549.1,285.0 550.8,296.3 552.3,285.2 554.1,293.1 555.9,285.5 557.2,293.2 558.9,286.2 560.3,293.3 561.9,281.8 563.7,297.4 565.2,281.3 566.8,299.8 568.5,282.5 570.1,294.2 571.5,287.4 573.3,300.7 574.9,286.2 576.2,297.4 577.6,285.7 578.8,299.1 580.6,287.3 582.0,295.7 583.5,283.9 585.0,297.6 586.4,286.8 588.2,295.6 590.0,288.6 591.3,293.4 593.1,287.1 594.8,293.0 596.6,288.6 598.2,294.1 600.0,286.6 601.4,292.8 603.3,287.3 604.7,292.2 606.4,286.5 608.0,293.2 609.6,286.1 611.2,295.3 613.0,284.4 614.5,294.1 616.2,282.5 618.1,294.0 619.3,283.6 621.1,293.3 622.7,286.0 624.6,295.7 625.8,282.8 627.2,296.1 628.4,285.5 629.7,294.9 631.3,285.8 632.9,298.8 634.5,288.2 636.4,294.4 637.8,284.3 639.4,295.5 640.9,283.7 642.4,295.1 643.8,285.2 645.2,297.2 646.7,285.0 648.4,298.4 650.1,285.4 651.9,294.2 653.7,282.9 655.1,302.6 656.7,276.9 658.6,295.8 660.1,277.6 661.3,301.5 663.2,282.7 664.4,299.2 665.8,281.6 667.3,306.2 668.8,277.5 670.1,295.7 671.5,283.0" fill="none" stroke="#EDB120" stroke-width="0.8" stroke-linejoin="round"/>
<polyline points="100.1,400.0 102.4,409.3 104.7,385.6 106.8,401.4 108.9,408.0 111.7,391.7 114.1,407.5 116.1,405.8 118.5,385.6 120.8,397.9 122.9,417.5 125.2,395.2 127.3,391.7 129.6,408.4 132.2,396.1 134.5,398.7 136.6,406.3 139.8,397.9 141.9,397.0 145.4,404.9 148.5,398.7 150.6,397.5 152.4,399.3 155.0,406.3 159.4,390.8 162.0,404.9 166.4,394.0 168.7,409.8 170.8,397.0 173.1,395.6 175.2,408.4 177.8,390.8 179.6,393.5 182.6,416.3 186.8,384.4 189.2,405.8 191.5,406.3 193.8,389.1 196.2,411.9 200.5,385.2 202.9,408.4 207.6,390.8 209.9,415.9 212.0,411.0 214.3,372.4 215.0,374.2 216.8,404.9 218.9,429.1 221.7,390.0 223.4,390.0 225.9,410.1 228.2,396.6 230.8,401.0 232.5,400.5 234.8,393.0 237.1,413.6 241.7,380.0 243.9,399.6 246.6,411.9 248.9,395.6 252.2,397.0 255.4,408.9 260.3,390.8 262.4,405.8 267.1,397.0 269.4,405.8 273.8,397.0 278.2,404.9 282.9,397.0 285.2,401.0 289.6,403.6 291.8,391.2 294.0,396.1 296.6,416.3 301.3,385.6 305.7,415.4 308.0,395.8 310.6,394.4 312.7,411.0 315.4,388.6 319.4,415.4 322.0,395.2 324.1,395.8 326.4,404.9 329.0,398.7 332.9,402.2 333.4,403.1 335.9,399.3 338.7,400.0 341.1,401.4 344.6,398.2 346.9,403.5 351.3,396.5 353.9,404.0 356.2,398.7 358.7,401.0 362.7,391.7 365.3,416.3 369.7,368.9 374.1,426.8 377.3,390.0 379.4,389.1 383.8,409.8 388.1,389.6 392.5,407.5 397.4,394.0 401.8,411.9 406.6,384.2 410.9,414.0 413.6,394.9 415.9,395.8 418.0,405.2 420.6,397.9 422.4,397.9 425.0,406.3 429.4,394.4 433.8,407.5 438.5,391.7 441.6,403.5 444.3,404.0 447.8,398.2 452.2,405.8 456.9,394.4 459.2,404.0 463.4,396.1 466.0,407.5 468.3,397.9 470.4,397.9 472.7,404.9 475.3,396.1 477.4,402.2 482.0,397.0 484.1,406.6 489.0,396.1 493.7,406.6 497.8,387.0 502.5,413.6 506.9,393.5 509.5,404.9 514.3,399.6 518.3,394.7 520.6,411.0 525.3,385.2 528.3,405.8 530.6,405.8 532.9,397.0 535.0,398.7 536.7,395.8 539.4,411.5 543.7,384.7 548.1,408.7 553.0,393.5 557.4,407.5 559.9,397.5 562.1,398.7 564.4,403.5 566.7,397.5 568.8,401.0 573.2,395.8 575.8,409.3 580.2,394.0 582.5,404.5 584.6,400.5 586.7,401.4 590.2,398.4 593.9,404.9 597.7,397.5 602.1,403.1 607.4,397.5 610.9,401.4 613.5,401.7 617.0,396.5 621.4,403.5 623.5,395.8 626.3,405.8 628.1,405.8 630.7,387.0 635.1,411.9 637.7,394.7 639.8,397.0 642.1,405.8 645.1,393.5 649.0,411.5 653.5,390.5 657.9,408.0 662.6,394.4 667.0,411.5 671.0,391.7" fill="none" stroke="#77AC30" stroke-width="1.15" stroke-linejoin="round"/>
</svg>
<div class="box" style="left:278px;top:14.2px;width:214px;height:18.6px;background:#E3B5BD;font-size:13px;line-height:19px;text-align:center;box-sizing:border-box;padding-right:1.6px;">db3 Four level wavelet decomposition</div>
<div class="box" style="left:326px;top:460px;width:119px;height:19px;background:#E3B5BD;font-size:10.8px;line-height:19px;text-align:center;"><span style="position:relative;top:1.5px;left:0.3px">Number of samples (nos.)</span></div>
<div class="box v" style="left:51px;top:0px;width:19px;height:140px;background:#0272C4;font-size:13.05px;">Low frequency signal a3</div>
<div class="box v" style="left:24.2px;top:112.5px;width:18.6px;height:143px;background:#D75515;font-size:13.1px;">High frequency signal d1</div>
<div class="box v" style="left:1px;top:205.7px;width:18.3px;height:96.2px;background:#3ABCDD;font-size:12.85px;"><span style="position:relative;top:1px;left:0px">current value(A)</span></div>
<div class="box v" style="left:51px;top:232.5px;width:19px;height:143px;background:#EDB120;font-size:13.1px;">High frequency signal d2</div>
<div class="box v" style="left:28px;top:325px;width:18.8px;height:143.2px;background:#77AC30;font-size:13.1px;">High frequency signal d3</div>
</body></html>
